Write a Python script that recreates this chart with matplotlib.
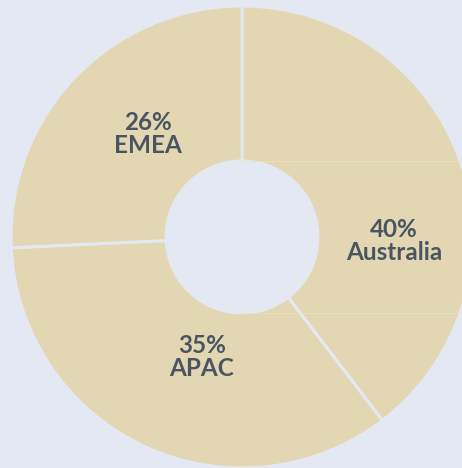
import matplotlib
matplotlib.use("Agg")
from matplotlib import pyplot as plt

# Region share data (rounded percentages, as printed on the chart)
regions = ['Australia', 'APAC', 'EMEA']
shares = [40, 35, 26]
# label anchor points in pixel coords (x, y from top)
label_pos = [(394, 241), (202, 357), (148, 134)]

bg = '#e4e8f2'
wedge_color = '#e2d7b2'
text_color = '#4b5561'

W, H = 462, 468
fig = plt.figure(figsize=(W / 100, H / 100), dpi=100)
fig.patch.set_facecolor(bg)
ax = fig.add_axes([0, 0, 1, 1])
ax.set_facecolor(bg)

cx, cy = 242, H - 237
outer_r = 231
inner_r = 76

ax.pie(shares, center=(cx, cy), radius=outer_r, startangle=90, counterclock=False,
       colors=[wedge_color] * len(shares),
       wedgeprops=dict(width=outer_r - inner_r, edgecolor=bg, linewidth=2.2),
       frame=True)
ax.set_xlim(0, W)
ax.set_ylim(0, H)
ax.set_aspect('equal')
ax.axis('off')

# faint seams seen in the original rendering
for yy in (cy + inner_r, cy - inner_r):
    ax.plot([cx, W], [yy, yy], color='#e8e0c6', linewidth=0.6, zorder=3)

for name, share, (lx, ly) in zip(regions, shares, label_pos):
    ax.text(lx, H - ly, f'{share}%\n{name}', ha='center', va='center',
            fontsize=17.5, fontweight='bold', family=['Lato', 'DejaVu Sans'],
            color=text_color, linespacing=0.95, zorder=4)

plt.savefig('out.png', dpi=100, facecolor=bg)
